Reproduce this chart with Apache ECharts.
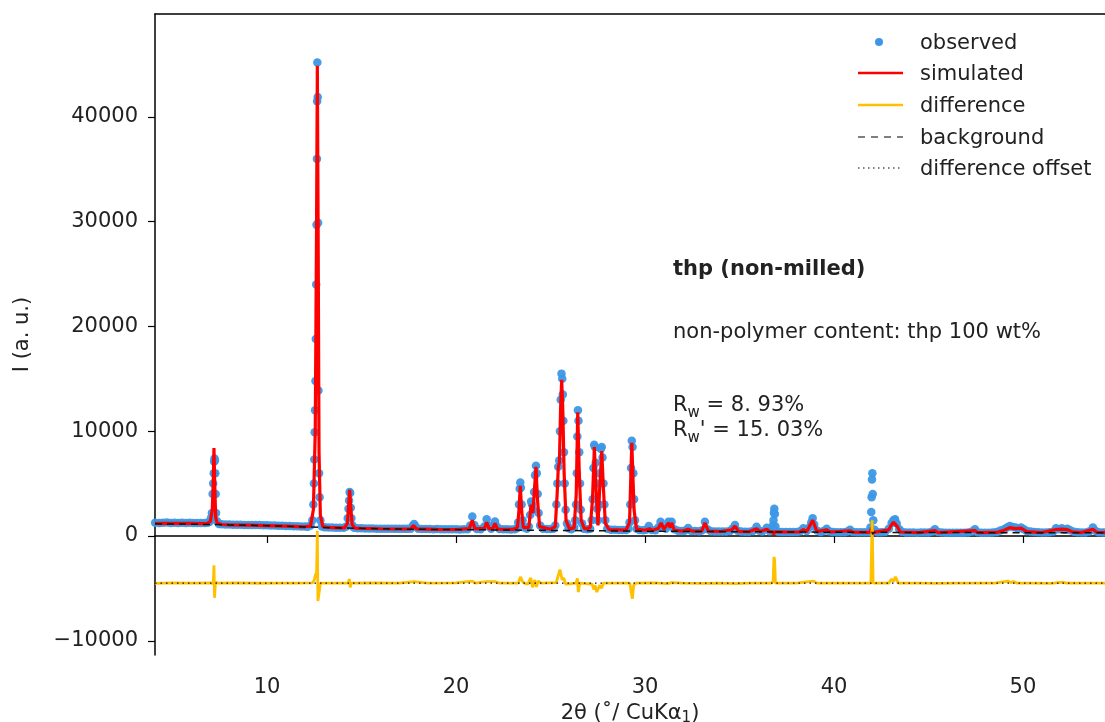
<!DOCTYPE html>
<html>
<head>
<meta charset="utf-8">
<script src="https://cdn.jsdelivr.net/npm/echarts@6/dist/echarts.min.js"></script>
<style>
html,body{margin:0;padding:0;background:#fff;}
#chart{width:1105px;height:722px;}
</style>
</head>
<body>
<div id="chart"></div>
<script>
// ---- data (2θ in degrees, intensity in a.u.) ----
const xTicks = [10, 20, 30, 40, 50];
const yTicks = [-10000, 0, 10000, 20000, 30000, 40000];

const observed = [
[4.08,1270],[4.3,1250],[4.5,1260],[4.7,1280],[4.9,1250],[5.1,1260],[5.3,1240],[5.5,1270],[5.7,1250],[5.9,1260],
[6.1,1240],[6.3,1230],[6.5,1250],[6.7,1240],[6.85,1260],[6.95,1330],[7.03,1700],[7.08,2200],[7.12,4000],[7.15,5000],
[7.18,6000],[7.2,7100],[7.22,7400],[7.24,7200],[7.26,6000],[7.28,4000],[7.3,2200],[7.35,1400],[7.45,1150],[7.6,1110],
[7.8,1100],[8.0,1090],[8.2,1080],[8.4,1070],[8.6,1070],[8.8,1060],[9.0,1050],[9.2,1060],[9.4,1040],[9.6,1040],
[9.8,1030],[10.0,1030],[10.2,1010],[10.4,1000],[10.6,990],[10.8,970],[11.0,960],[11.2,950],[11.4,930],[11.6,920],
[11.8,910],[12.0,900],[12.15,890],[12.3,1000],[12.4,1500],[12.45,3000],[12.48,5000],[12.5,7300],[12.52,9900],[12.54,12000],
[12.56,14800],[12.58,18800],[12.6,24000],[12.62,29700],[12.64,36000],[12.65,41500],[12.66,45200],[12.68,41900],[12.7,29900],[12.72,13900],
[12.75,6000],[12.78,3700],[12.82,1500],[12.9,900],[13.05,830],[13.25,810],[13.45,800],[13.65,790],[13.85,780],[14.05,780],
[14.2,900],[14.27,1700],[14.31,2600],[14.34,3400],[14.37,4200],[14.4,4100],[14.43,2700],[14.46,1700],[14.52,1000],[14.6,780],
[14.8,740],[15.0,730],[15.2,720],[15.4,720],[15.6,710],[15.8,700],[16.0,700],[16.2,690],[16.4,700],[16.6,690],
[16.8,680],[17.0,690],[17.2,680],[17.4,680],[17.6,700],[17.7,950],[17.78,1150],[17.86,900],[18.0,690],[18.2,670],
[18.4,660],[18.6,660],[18.8,650],[19.0,660],[19.2,650],[19.4,640],[19.6,650],[19.8,640],[20.0,640],[20.2,630],
[20.4,640],[20.6,650],[20.75,1000],[20.86,1850],[20.97,1050],[21.1,660],[21.3,650],[21.5,900],[21.62,1600],[21.74,950],
[21.86,700],[21.96,950],[22.06,1380],[22.16,900],[22.3,660],[22.5,640],[22.7,640],[22.9,630],[23.1,650],[23.22,750],
[23.29,1300],[23.33,3000],[23.37,4500],[23.4,5100],[23.43,4600],[23.47,3000],[23.52,1500],[23.6,800],[23.75,700],[23.85,900],
[23.92,2000],[23.97,3300],[24.02,3000],[24.08,2500],[24.13,4200],[24.18,5800],[24.23,6700],[24.27,6000],[24.32,4000],[24.37,2200],
[24.45,1000],[24.6,700],[24.8,660],[25.0,660],[25.15,700],[25.25,1000],[25.31,3000],[25.36,5000],[25.41,6600],[25.46,7200],
[25.5,10000],[25.54,13000],[25.58,15500],[25.62,15000],[25.65,13500],[25.68,11000],[25.71,8000],[25.75,5000],[25.8,2500],[25.87,1200],
[25.95,750],[26.1,650],[26.25,800],[26.31,1500],[26.35,3000],[26.39,6000],[26.42,9500],[26.45,12000],[26.48,11000],[26.52,8000],
[26.56,5000],[26.6,2500],[26.67,1200],[26.78,680],[26.95,640],[27.1,700],[27.18,1500],[27.23,3500],[27.27,6500],[27.31,8700],
[27.35,8500],[27.39,7000],[27.43,5000],[27.47,2600],[27.51,1500],[27.56,3000],[27.61,6000],[27.66,8300],[27.71,8500],[27.75,7500],
[27.8,5000],[27.85,3000],[27.9,1500],[28.0,700],[28.2,600],[28.4,590],[28.6,580],[28.8,580],[29.0,580],[29.12,700],
[29.18,1300],[29.22,3000],[29.26,6500],[29.3,9100],[29.34,8500],[29.38,6000],[29.42,3500],[29.47,1500],[29.55,700],[29.7,570],
[29.9,560],[30.05,590],[30.2,950],[30.35,580],[30.55,540],[30.7,800],[30.82,1350],[30.95,800],[31.1,700],[31.24,1350],
[31.33,1000],[31.41,1350],[31.55,650],[31.75,500],[31.95,480],[32.1,500],[32.28,770],[32.45,480],[32.65,470],[32.85,460],
[33.0,520],[33.17,1350],[33.3,650],[33.5,450],[33.7,440],[33.9,440],[34.1,430],[34.3,430],[34.5,480],[34.62,700],
[34.76,1050],[34.9,500],[35.1,420],[35.3,410],[35.5,410],[35.7,480],[35.9,890],[36.05,500],[36.2,420],[36.44,780],
[36.6,450],[36.75,650],[36.78,1050],[36.8,1500],[36.82,2200],[36.84,2600],[36.87,2100],[36.9,900],[37.05,400],[37.25,390],
[37.45,380],[37.65,390],[37.85,380],[38.05,390],[38.2,450],[38.38,740],[38.55,480],[38.72,850],[38.8,1300],[38.87,1700],
[38.95,1100],[39.1,520],[39.3,380],[39.45,480],[39.61,700],[39.75,450],[39.95,370],[40.15,360],[40.35,360],[40.55,360],
[40.7,430],[40.85,600],[41.0,380],[41.2,350],[41.4,350],[41.6,350],[41.8,360],[41.93,800],[41.97,2300],[41.99,3700],
[42.01,5400],[42.03,6000],[42.05,4000],[42.08,1500],[42.15,600],[42.3,360],[42.5,350],[42.7,380],[42.9,700],[43.05,1240],
[43.15,1500],[43.23,1600],[43.32,1200],[43.45,650],[43.6,400],[43.8,340],[44.0,330],[44.2,330],[44.4,320],[44.6,330],
[44.8,340],[45.0,330],[45.2,420],[45.34,640],[45.5,380],[45.7,330],[45.9,320],[46.1,320],[46.3,310],[46.5,320],
[46.7,310],[46.9,320],[47.1,330],[47.3,420],[47.46,640],[47.6,360],[47.8,320],[48.0,320],[48.2,320],[48.4,330],
[48.6,370],[48.8,520],[49.0,650],[49.15,800],[49.3,950],[49.45,850],[49.6,800],[49.75,700],[49.9,800],[50.05,650],
[50.2,480],[50.4,420],[50.6,390],[50.8,360],[51.0,340],[51.2,330],[51.4,350],[51.6,430],[51.75,750],[51.9,650],
[52.05,750],[52.2,600],[52.35,700],[52.5,550],[52.7,400],[52.9,350],[53.1,330],[53.3,340],[53.5,420],[53.7,800],
[53.85,480],[54.0,350],[54.2,330],[54.34,330]
];

const simulated = [
[4.07,1210],[5,1210],[6,1200],[6.8,1180],[7.0,1400],[7.1,2500],[7.15,5000],[7.19,8400],[7.23,5000],[7.28,1800],
[7.35,1250],[7.6,1100],[8,1070],[9,1030],[10,990],[11,940],[12,880],[12.3,950],[12.45,2500],[12.55,10000],
[12.62,30000],[12.66,44900],[12.7,30000],[12.75,8000],[12.82,2000],[12.95,880],[13.5,790],[14.1,770],[14.25,1200],[14.32,3000],
[14.37,4400],[14.42,3000],[14.5,1100],[14.65,750],[15,720],[16,690],[17,670],[17.6,680],[17.75,1000],[17.9,680],
[19,640],[20,620],[20.7,700],[20.86,1500],[21.0,680],[21.5,740],[21.62,1300],[21.75,680],[21.95,740],[22.06,1200],
[22.2,650],[23,630],[23.25,800],[23.33,2500],[23.4,4800],[23.47,2500],[23.56,800],[23.85,800],[23.97,3000],[24.07,2200],
[24.15,4500],[24.23,6600],[24.31,3500],[24.42,900],[25.0,650],[25.25,900],[25.35,4000],[25.41,6600],[25.47,7000],[25.53,12000],
[25.59,14900],[25.65,12000],[25.72,6000],[25.82,1500],[26.0,680],[26.25,780],[26.36,4000],[26.44,11800],[26.52,6000],[26.62,1500],
[26.8,670],[27.1,800],[27.22,3500],[27.32,8500],[27.42,4000],[27.51,1000],[27.6,4500],[27.71,8100],[27.8,4500],[27.9,1200],
[28.1,600],[29,570],[29.18,1300],[29.3,8900],[29.42,2500],[29.55,650],[30,550],[30.23,700],[30.4,540],[30.7,720],
[30.85,1250],[31.0,650],[31.24,1250],[31.33,800],[31.41,1250],[31.55,550],[32,470],[32.28,650],[32.5,460],[33.0,470],
[33.17,1250],[33.35,460],[34.0,430],[34.6,600],[34.76,950],[34.95,440],[35.5,410],[35.9,700],[36.1,420],[36.44,650],
[36.6,420],[36.78,400],[36.8,150],[36.86,150],[36.88,400],[37.5,380],[38.2,400],[38.38,620],[38.55,400],[38.87,1500],
[39.1,420],[39.61,600],[39.8,380],[40.85,500],[41.0,360],[41.9,350],[42.0,800],[42.05,150],[42.1,350],[42.9,600],
[43.05,1100],[43.15,1300],[43.23,1400],[43.35,900],[43.5,380],[44.5,330],[45.34,520],[45.5,330],[47.46,520],[47.6,320],
[48.6,340],[49.0,550],[49.3,800],[49.6,700],[49.9,750],[50.2,420],[51.0,330],[51.75,620],[52.05,650],[52.35,600],
[52.6,400],[53.1,330],[53.7,650],[53.9,360],[54.34,330]
];

const background = [
[4.07,1160],[6,1130],[8,1060],[10,990],[12,870],[14,760],[16,690],[18,640],[20,610],[22,580],
[24,550],[26,520],[28,490],[30,460],[32,440],[34,420],[36,400],[36.78,390],[36.8,150],[36.86,150],
[36.88,390],[38,380],[40,360],[42.02,350],[42.04,150],[42.1,150],[42.12,350],[44,340],[46,330],[48,320],
[50,320],[52,310],[54.34,310]
];

const difference = [
[4.07,-4520],[5,-4480],[6,-4500],[7,-4480],[7.15,-4550],[7.19,-2800],[7.22,-5900],[7.27,-4400],[7.4,-4500],[8.5,-4480],
[9.5,-4510],[10.5,-4490],[11.5,-4500],[12.4,-4480],[12.5,-4200],[12.56,-3700],[12.62,-3500],[12.66,500],[12.69,-6200],[12.74,-5600],
[12.82,-4500],[14.3,-4500],[14.35,-4100],[14.4,-4900],[14.45,-4500],[15.5,-4480],[17,-4500],[17.78,-4350],[18.5,-4500],[20,-4480],
[20.86,-4300],[21,-4500],[21.62,-4350],[22.06,-4350],[22.3,-4500],[23.3,-4500],[23.37,-4100],[23.42,-3900],[23.5,-4300],[23.6,-4500],
[23.8,-4600],[23.95,-4000],[24.05,-4900],[24.15,-4200],[24.25,-4850],[24.35,-4300],[24.5,-4500],[25.3,-4450],[25.42,-3700],[25.5,-3200],
[25.57,-3800],[25.62,-4200],[25.7,-4000],[25.8,-4600],[26.35,-4500],[26.42,-4050],[26.47,-5350],[26.55,-4500],[27.2,-4600],[27.3,-5100],
[27.35,-4700],[27.45,-5350],[27.6,-4700],[27.7,-5000],[27.8,-4500],[29.2,-4500],[29.28,-5500],[29.33,-6000],[29.4,-4700],[29.5,-4500],
[30.5,-4480],[31.2,-4550],[31.4,-4450],[32,-4500],[33,-4520],[34,-4500],[34.8,-4550],[35.5,-4500],[36.7,-4500],[36.78,-4300],
[36.82,-2000],[36.86,-2300],[36.9,-4500],[38,-4500],[38.9,-4300],[39.1,-4500],[40,-4500],[41,-4500],[41.95,-4500],[42.02,1500],
[42.07,-4500],[42.9,-4500],[43.05,-4100],[43.15,-4350],[43.25,-3900],[43.4,-4500],[44.5,-4500],[45.5,-4520],[46.5,-4490],[47.5,-4500],
[48.5,-4500],[49.2,-4300],[49.35,-4450],[49.5,-4350],[49.7,-4500],[50.5,-4500],[51.5,-4520],[52.1,-4400],[52.3,-4500],[53.2,-4500],
[54.34,-4500]
];

const diffOffset = [[4.07,-4500],[54.34,-4500]];

// ---- chart ----
const FONT = 'DejaVu Sans';
const TXT = '#222';
const chart = echarts.init(document.getElementById('chart'), null, {renderer: 'canvas'});

const legendRows = [
  {name: 'observed', y: 42},
  {name: 'simulated', y: 73},
  {name: 'difference', y: 105},
  {name: 'background', y: 137},
  {name: 'difference offset', y: 168}
];
const legendGraphics = [];
legendRows.forEach((r) => {
  legendGraphics.push({type: 'text', left: 920, top: r.y - 9,
    style: {text: r.name, font: '21px "' + FONT + '"', fill: TXT}});
});
legendGraphics.push({type: 'circle', shape: {cx: 879, cy: 42, r: 4}, style: {fill: '#3c97e6'}});
legendGraphics.push({type: 'line', shape: {x1: 858, y1: 73, x2: 903, y2: 73}, style: {stroke: '#ff0000', lineWidth: 2.5}});
legendGraphics.push({type: 'line', shape: {x1: 858, y1: 105, x2: 903, y2: 105}, style: {stroke: '#ffc000', lineWidth: 2.5}});
legendGraphics.push({type: 'line', shape: {x1: 858, y1: 137, x2: 903, y2: 137}, style: {stroke: '#555', lineWidth: 1.5, lineDash: [7, 6]}});
legendGraphics.push({type: 'line', shape: {x1: 858, y1: 168, x2: 903, y2: 168}, style: {stroke: '#555', lineWidth: 1.5, lineDash: [1.5, 3.5]}});

const richR = {
  a: {fontFamily: FONT, fontSize: 21, lineHeight: 24, verticalAlign: 'bottom'},
  s: {fontFamily: FONT, fontSize: 15, lineHeight: 24, verticalAlign: 'bottom', padding: [0, 0, -5, 0]}
};
const annot = [
  {type: 'text', left: 673, top: 259, style: {text: 'thp (non-milled)', font: 'bold 21px "' + FONT + '"', fill: TXT}},
  {type: 'text', left: 673, top: 322, style: {text: 'non-polymer content: thp 100 wt%', font: '21px "' + FONT + '"', fill: TXT}},
  {type: 'text', left: 673, top: 395, style: {text: '{a|R}{s|w}{a| = 8. 93%}', fill: TXT, rich: richR}},
  {type: 'text', left: 673, top: 420, style: {text: "{a|R}{s|w}{a|' = 15. 03%}", fill: TXT, rich: richR}}
];

const axisCommon = {
  axisLine: {show: true, lineStyle: {color: '#000', width: 1.5}},
  axisTick: {show: true, length: 7, lineStyle: {color: '#000', width: 1.2}},
  splitLine: {show: false},
  axisLabel: {fontFamily: FONT, fontSize: 21, color: TXT}
};

const option = {
  animation: false,
  backgroundColor: '#fff',
  grid: {left: 155, right: 0, top: 14, bottom: 67, containLabel: false, outerBoundsMode: 'none'},
  xAxis: [{
    type: 'value', min: 4.07, max: 54.34, position: 'bottom',
    ...axisCommon,
    axisTick: {...axisCommon.axisTick, customValues: xTicks},
    axisLabel: {...axisCommon.axisLabel, margin: 22, customValues: xTicks},
    name: '2θ (˚/ CuKα{sub|1})', nameLocation: 'middle', nameGap: 45,
    nameTextStyle: {fontFamily: FONT, fontSize: 21, color: TXT,
      rich: {sub: {fontFamily: FONT, fontSize: 15, color: TXT, padding: [10, 0, 0, 0]}}}
  }, {
    type: 'value', min: 4.07, max: 54.34, position: 'top',
    axisLine: {show: true, lineStyle: {color: '#000', width: 1.5}},
    axisTick: {show: false}, axisLabel: {show: false}, splitLine: {show: false}
  }],
  yAxis: [{
    type: 'value', min: -11360, max: 49830,
    ...axisCommon,
    axisTick: {...axisCommon.axisTick, customValues: yTicks},
    axisLabel: {...axisCommon.axisLabel, margin: 17, customValues: yTicks,
      formatter: v => (v < 0 ? '\u2212' + Math.abs(v) : String(v))},
    name: 'I (a. u.)', nameLocation: 'middle', nameGap: 122, nameRotate: 90,
    nameTextStyle: {fontFamily: FONT, fontSize: 21, color: TXT}
  }],
  series: [
    {name: 'observed', type: 'scatter', data: observed, symbol: 'circle', symbolSize: 8.5,
     itemStyle: {color: '#3c97e6', opacity: 0.95}, z: 1},
    {name: 'simulated', type: 'line', data: simulated, showSymbol: false, symbol: 'none',
     lineStyle: {color: '#ff0000', width: 3.2}, z: 2},
    {name: 'difference', type: 'line', data: difference, showSymbol: false, symbol: 'none',
     lineStyle: {color: '#ffc000', width: 2.8}, z: 3},
    {name: 'background', type: 'line', data: background, showSymbol: false, symbol: 'none',
     lineStyle: {color: '#111', width: 1.5, type: [7, 5]}, z: 4},
    {name: 'difference offset', type: 'line', data: diffOffset, showSymbol: false, symbol: 'none',
     lineStyle: {color: '#111', width: 1.3, type: [1.5, 4]}, z: 5}
  ],
  graphic: legendGraphics.concat(annot)
};
chart.setOption(option);
</script>
</body>
</html>
